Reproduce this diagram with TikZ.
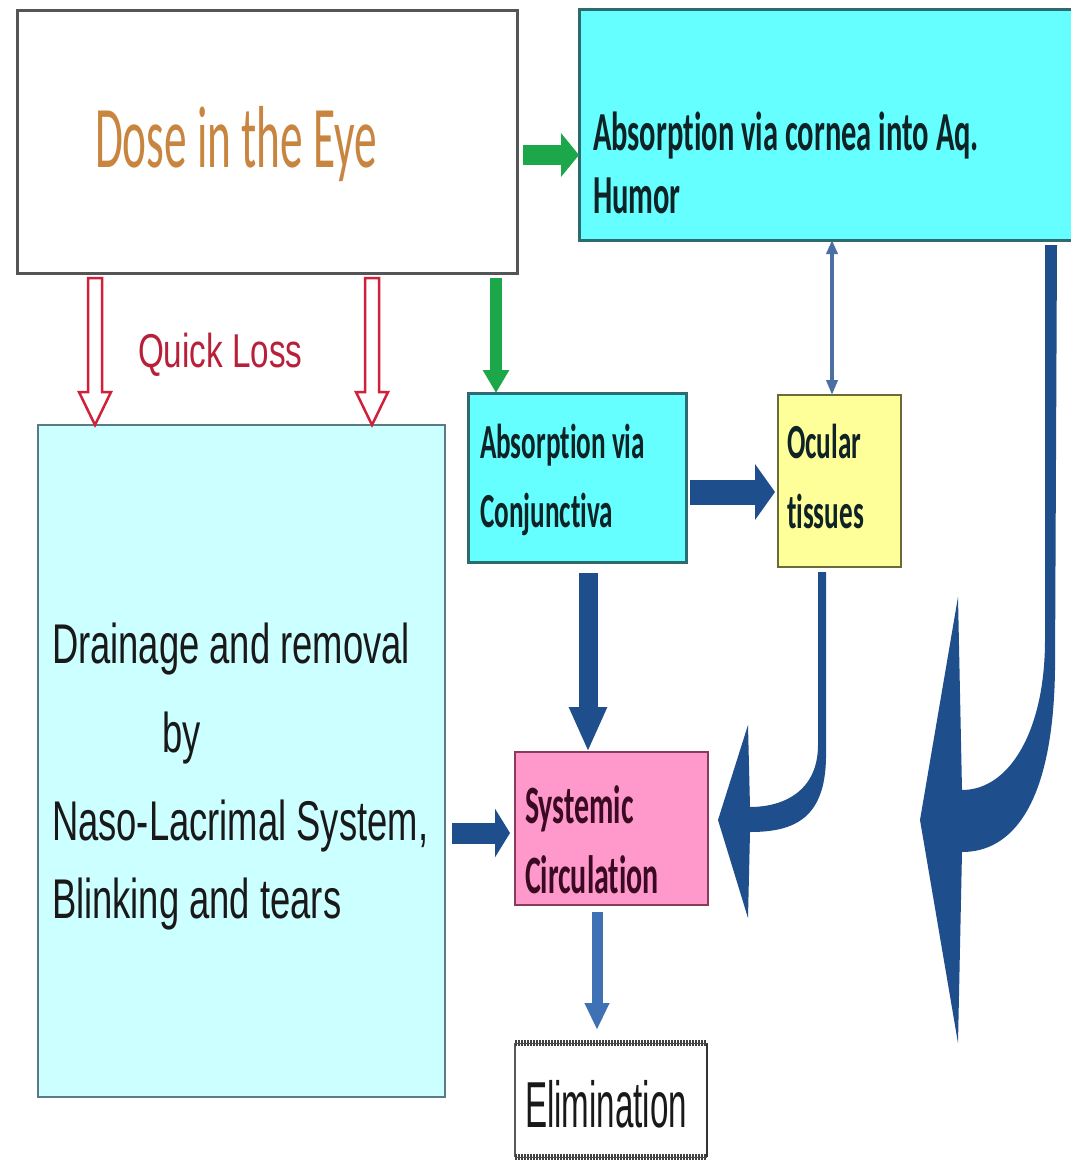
\documentclass[tikz,border=0pt]{standalone}
\usepackage{fontspec}
\usetikzlibrary{arrows.meta,calc}
\newfontfamily\dosef[FakeStretch=0.515,Ligatures=NoCommon]{Carlito}
\newfontfamily\cbf[FakeStretch=0.555,Ligatures=NoCommon]{Carlito}
\newfontfamily\arf[FakeStretch=0.65]{Liberation Sans}
\newfontfamily\qlf[FakeStretch=0.70]{Liberation Sans}
\newfontfamily\elf[FakeStretch=0.51]{Liberation Sans}
\definecolor{cyanbox}{HTML}{66FFFF}
\definecolor{lcyan}{HTML}{CCFFFF}
\definecolor{ybox}{HTML}{FFFF99}
\definecolor{pbox}{HTML}{FF99CC}
\definecolor{dblue}{HTML}{1F4E8C}
\definecolor{mblue}{HTML}{4A6FA5}
\definecolor{eblue}{HTML}{3F72B5}
\definecolor{grn}{HTML}{1CA84A}
\definecolor{qred}{HTML}{D0203A}
\definecolor{qtxt}{HTML}{B8203A}
\definecolor{dosec}{HTML}{C8853F}
\definecolor{txtd}{HTML}{0F2326}
\definecolor{sysd}{HTML}{3A0A22}
\definecolor{doseb}{HTML}{555555}
\definecolor{cyb}{HTML}{2E6B6E}
\definecolor{drb}{HTML}{5A7A85}
\definecolor{ocb}{HTML}{6B6B3A}
\definecolor{syb}{HTML}{8A3A5A}
\begin{document}
\begin{tikzpicture}[x=1pt,y=-1pt,
  box/.style={rectangle,inner sep=0pt,outer sep=0pt,anchor=north west},
  lbl/.style={anchor=base west,inner sep=0pt,outer sep=0pt},
  cbtxt/.style={lbl,text=txtd,font=\cbf\bfseries\fontsize{55pt}{60pt}\selectfont},
  cbs/.style={lbl,text=txtd,font=\cbf\bfseries\fontsize{49pt}{55pt}\selectfont},
  artxt/.style={lbl,text=black!90,font=\arf\fontsize{56pt}{62pt}\selectfont},
  hollow/.style={draw=qred,line width=2.5pt,fill=white,line join=miter},
  hatch/.style={black!75,line width=6pt,dash pattern=on 1.5pt off 1.5pt}
]
\useasboundingbox (0,0) rectangle (1071,1165);
\clip (0,0) rectangle (1071,1165);
\fill[white] (0,0) rectangle (1071,1165);

% boxes
\node[box,draw=doseb,line width=3pt,fill=white,minimum width=500pt,minimum height=263pt] (dose) at (17,10) {};
\node[box,draw=cyb,line width=3pt,fill=cyanbox,minimum width=500pt,minimum height=231pt] (cornea) at (579,9) {};
\node[box,draw=drb,line width=2pt,fill=lcyan,minimum width=407pt,minimum height=672pt] (drain) at (38,425) {};
\node[box,draw=cyb,line width=3pt,fill=cyanbox,minimum width=218pt,minimum height=169pt] (conj) at (468,393) {};
\node[box,draw=ocb,line width=2.5pt,fill=ybox,minimum width=123pt,minimum height=172pt] (ocular) at (778,395) {};
\node[box,draw=syb,line width=2.5pt,fill=pbox,minimum width=193pt,minimum height=153pt] (sys) at (515,752) {};
\node[box,fill=white,minimum width=192pt,minimum height=114pt] (elim) at (515,1043) {};
\draw[black!65,line width=1.2pt] (elim.north west) -- (elim.south west);
\draw[black!80,line width=2.5pt] (elim.north east) -- (elim.south east);
\draw[hatch] (elim.north west) -- (elim.north east);
\draw[hatch] (elim.south west) -- (elim.south east);
\draw[black!70,line width=1pt] (elim.north west) -- (elim.north east);
\draw[black!70,line width=1pt] (elim.south west) -- (elim.south east);

% texts
\node[lbl,text=dosec,font=\dosef\fontsize{88pt}{96pt}\selectfont] (tdose) at (95,167) {Dose in the Eye};
\node[cbtxt] (tcor1) at (593,150) {Absorption via cornea into Aq.};
\node[cbtxt] (tcor2) at (593,213) {Humor};
\node[cbs] (tconj1) at (480,458) {Absorption via};
\node[cbs] (tconj2) at (480,527) {Conjunctiva};
\node[cbs] (toc1) at (787,458) {Ocular};
\node[cbs] (toc2) at (787,528) {tissues};
\node[cbtxt,text=sysd,font=\cbf\bfseries\fontsize{54pt}{60pt}\selectfont] (tsys1) at (525,823) {Systemic};
\node[cbtxt,text=sysd,font=\cbf\bfseries\fontsize{54pt}{60pt}\selectfont] (tsys2) at (525,893) {Circulation};
\node[artxt] (tdr1) at (52,663) {Drainage and removal};
\node[artxt] (tdr2) at (162,752) {by};
\node[artxt] (tdr3) at (52,840) {Naso-Lacrimal System,};
\node[artxt] (tdr4) at (52,918) {Blinking and tears};
\node[lbl,text=qtxt,font=\qlf\fontsize{47.5pt}{52pt}\selectfont] (tql) at (138,367) {Quick Loss};
\node[lbl,text=black!90,font=\elf\fontsize{65pt}{70pt}\selectfont] (tel) at (525,1127) {Elimination};

% straight arrows
\draw[grn,line width=20pt,-{Triangle[width=43pt,length=18pt]}] ($(dose.east |- 0,155)+(6,0)$) -- (cornea.west |- 0,155);
\draw[grn,line width=12pt,-{Triangle[width=25pt,length=23pt]}] ($(496,0 |- dose.south)+(0,5)$) -- (496,0 |- conj.north);
\draw[mblue,line width=4pt,{Triangle[width=11pt,length=14pt]}-{Triangle[width=11pt,length=15pt]}] (832,0 |- cornea.south) -- (832,0 |- ocular.north);
\draw[dblue,line width=25pt,-{Triangle[width=55pt,length=20pt]}] ($(conj.east |- 0,492)+(4,0)$) -- ($(ocular.west |- 0,492)+(-3,0)$);
\draw[dblue,line width=19pt,-{Triangle[width=35pt,length=45pt]}] ($(588,0 |- conj.south)+(0,11)$) -- (588,0 |- sys.north);
\draw[dblue,line width=21pt,-{Triangle[width=48pt,length=15pt]}] ($(drain.east |- 0,833)+(7,0)$) -- ($(sys.west |- 0,833)+(-5,0)$);
\draw[eblue,line width=11pt,-{Triangle[width=23pt,length=27pt]}] ($(597,0 |- sys.south)+(0,7)$) -- ($(597,0 |- elim.north)+(0,-13)$);

% hollow quick-loss arrows
\coordinate (q1s) at ($(95,0 |- dose.south)+(0,5)$);
\coordinate (q1e) at (95,0 |- drain.north);
\coordinate (q2s) at ($(372,0 |- dose.south)+(0,5)$);
\coordinate (q2e) at (372,0 |- drain.north);
\foreach \a in {q1,q2}{
  \draw[hollow] ($(\a s)+(-7,0)$) -- ($(\a e)+(-7,-33)$) -- ($(\a e)+(-16,-33)$) -- (\a e) -- ($(\a e)+(16,-33)$) -- ($(\a e)+(7,-33)$) -- ($(\a s)+(7,0)$) -- cycle;
}

% curved arrows
\fill[dblue] (826,572) -- (826,752) .. controls (827,818) and (795,832) .. (750,832) -- (748,918) -- (718,820) -- (748,725) -- (750,807) .. controls (785,807) and (818,790) .. (818,745) -- (818,572) -- cycle;
\fill[dblue] (1057,245) -- (1055,670) .. controls (1053,805) and (1012,852) .. (962,852) -- (958,1043) -- (920,820) -- (958,597) -- (962,790) .. controls (1010,790) and (1045,730) .. (1045,640) -- (1045,245) -- cycle;
\end{tikzpicture}
\end{document}
